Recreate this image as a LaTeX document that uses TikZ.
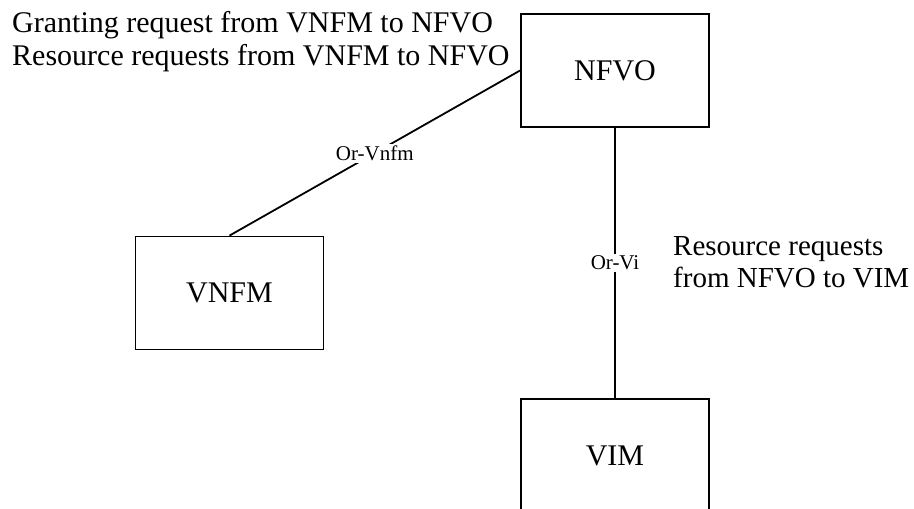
\documentclass[tikz,border=0pt]{standalone}
\usepackage{fontspec}
\setmainfont{Liberation Serif}
\begin{document}
\begin{tikzpicture}[x=1pt,y=-1pt,
  box/.style={draw,line width=1.8pt,rectangle,minimum width=188pt,minimum height=113pt,inner sep=0pt,font=\fontsize{30}{33}\selectfont},
  lbl/.style={fill=white,inner sep=2pt,font=\fontsize{21}{23}\selectfont},
  txt/.style={inner sep=0pt,anchor=base west,font=\fontsize{30}{33}\selectfont},
  link/.style={line width=1.8pt}]
\clip (0,0) rectangle (914,509);
\fill[white] (0,0) rectangle (914,509);
\node[box] (nfvo) at (615,70.5) {NFVO};
\node[box] (vnfm) at (229.5,293) {VNFM};
\node[box] (vim) at (615,455.5) {VIM};
\draw[link] (nfvo.west) -- node[lbl] (l1) {Or-Vnfm} (vnfm.north);
\draw[link] (nfvo.south) -- node[lbl,pos=0.5] (l2) {Or-Vi} (vim.north);
\node[txt] (t1) at (12,32) {Granting request from VNFM to NFVO};
\node[txt] (t2) at (12,65) {Resource requests from VNFM to NFVO};
\node[txt,font=\fontsize{29}{32}\selectfont] (t3) at (673,255) {Resource requests};
\node[txt,font=\fontsize{29}{32}\selectfont] (t4) at (673,287) {from NFVO to VIM};
\end{tikzpicture}
\end{document}
